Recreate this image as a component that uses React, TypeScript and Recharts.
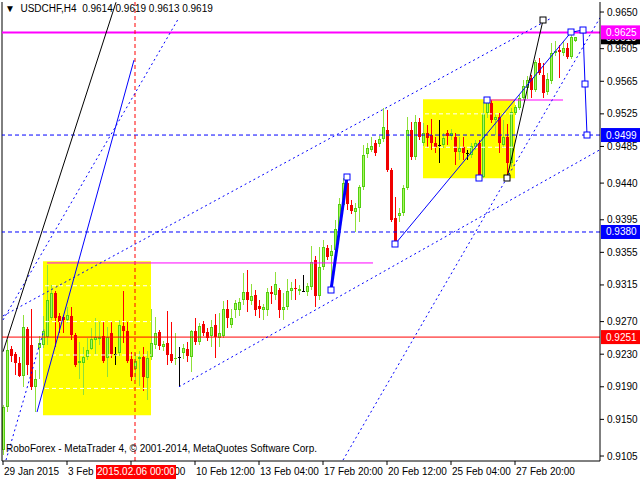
import React from 'react';
import { ComposedChart, Bar, XAxis, YAxis, ReferenceLine, ReferenceArea, ReferenceDot } from 'recharts';

// USDCHF H4 candles, bar 0 = 29 Jan 16:00
const OPENS = [
  0.9112, 0.9165, 0.9236, 0.9230, 0.9219, 0.9203, 0.9261, 0.9241, 0.9190, 0.9238,
  0.9241, 0.9251, 0.9274, 0.9305, 0.9277, 0.9276, 0.9272, 0.9277, 0.9254, 0.9219,
  0.9219, 0.9227, 0.9236, 0.9247, 0.9249, 0.9252, 0.9225, 0.9256, 0.9230, 0.9231,
  0.9265, 0.9259, 0.9224, 0.9212, 0.9224, 0.9227, 0.9201, 0.9227, 0.9241, 0.9257,
  0.9239, 0.9244, 0.9230, 0.9224, 0.9227, 0.9231, 0.9236, 0.9227, 0.9259, 0.9245,
  0.9267, 0.9257, 0.9252, 0.9266, 0.9250, 0.9252, 0.9285, 0.9266, 0.9284, 0.9284,
  0.9297, 0.9306, 0.9295, 0.9303, 0.9289, 0.9284, 0.9284, 0.9306, 0.9303, 0.9309,
  0.9284, 0.9288, 0.9308, 0.9311, 0.9308, 0.9308, 0.9306, 0.9312, 0.9346, 0.9301,
  0.9337, 0.9360, 0.9351, 0.9358, 0.9382, 0.9413, 0.9440, 0.9413, 0.9404, 0.9409,
  0.9435, 0.9476, 0.9481, 0.9489, 0.9488, 0.9494, 0.9505, 0.9456, 0.9397, 0.9400,
  0.9403, 0.9434, 0.9505, 0.9472, 0.9515, 0.9489, 0.9501, 0.9499, 0.9489, 0.9487,
  0.9487, 0.9501, 0.9498, 0.9497, 0.9478, 0.9484, 0.9477, 0.9474, 0.9484, 0.9489,
  0.9447, 0.9526, 0.9538, 0.9517, 0.9521, 0.9487, 0.9497, 0.9465, 0.9526, 0.9532,
  0.9544, 0.9557, 0.9569, 0.9554, 0.9587, 0.9573, 0.9552, 0.9565, 0.9600, 0.9603,
  0.9600, 0.9606, 0.9595, 0.9614,
];
const HIGHS = [
  0.9168, 0.9247, 0.9240, 0.9233, 0.9227, 0.9278, 0.9263, 0.9285, 0.9211, 0.9252,
  0.9277, 0.9340, 0.9315, 0.9308, 0.9281, 0.9278, 0.9288, 0.9288, 0.9256, 0.9245,
  0.9239, 0.9250, 0.9262, 0.9274, 0.9270, 0.9270, 0.9263, 0.9270, 0.9239, 0.9272,
  0.9308, 0.9270, 0.9233, 0.9232, 0.9234, 0.9239, 0.9234, 0.9285, 0.9276, 0.9260,
  0.9246, 0.9283, 0.9270, 0.9256, 0.9239, 0.9243, 0.9245, 0.9260, 0.9274, 0.9268,
  0.9271, 0.9262, 0.9272, 0.9279, 0.9281, 0.9295, 0.9297, 0.9285, 0.9297, 0.9299,
  0.9330, 0.9333, 0.9316, 0.9309, 0.9297, 0.9292, 0.9311, 0.9314, 0.9331, 0.9311,
  0.9305, 0.9322, 0.9319, 0.9322, 0.9315, 0.9327, 0.9317, 0.9363, 0.9351, 0.9362,
  0.9370, 0.9364, 0.9364, 0.9395, 0.9422, 0.9446, 0.9448, 0.9419, 0.9415, 0.9438,
  0.9487, 0.9489, 0.9497, 0.9493, 0.9498, 0.9532, 0.9530, 0.9459, 0.9423, 0.9409,
  0.9438, 0.9521, 0.9515, 0.9524, 0.9520, 0.9514, 0.9511, 0.9519, 0.9497, 0.9517,
  0.9501, 0.9505, 0.9507, 0.9501, 0.9497, 0.9497, 0.9481, 0.9489, 0.9493, 0.9493,
  0.9540, 0.9543, 0.9542, 0.9526, 0.9526, 0.9517, 0.9512, 0.9532, 0.9536, 0.9548,
  0.9567, 0.9572, 0.9573, 0.9591, 0.9594, 0.9587, 0.9575, 0.9612, 0.9614, 0.9609,
  0.9614, 0.9612, 0.9625, 0.9619,
];
const LOWS = [
  0.9106, 0.9159, 0.9220, 0.9204, 0.9202, 0.9190, 0.9204, 0.9186, 0.9159, 0.9200,
  0.9238, 0.9241, 0.9272, 0.9239, 0.9256, 0.9256, 0.9268, 0.9247, 0.9214, 0.9200,
  0.9180, 0.9223, 0.9235, 0.9230, 0.9241, 0.9219, 0.9202, 0.9225, 0.9217, 0.9228,
  0.9244, 0.9219, 0.9197, 0.9198, 0.9191, 0.9185, 0.9174, 0.9223, 0.9236, 0.9235,
  0.9234, 0.9217, 0.9219, 0.9217, 0.9190, 0.9224, 0.9220, 0.9208, 0.9241, 0.9241,
  0.9252, 0.9246, 0.9239, 0.9225, 0.9239, 0.9250, 0.9262, 0.9262, 0.9274, 0.9277,
  0.9290, 0.9282, 0.9290, 0.9277, 0.9274, 0.9272, 0.9277, 0.9292, 0.9297, 0.9274,
  0.9272, 0.9284, 0.9297, 0.9297, 0.9303, 0.9306, 0.9301, 0.9309, 0.9288, 0.9297,
  0.9333, 0.9346, 0.9309, 0.9355, 0.9380, 0.9411, 0.9407, 0.9402, 0.9380, 0.9392,
  0.9432, 0.9471, 0.9478, 0.9473, 0.9484, 0.9491, 0.9454, 0.9392, 0.9364, 0.9392,
  0.9400, 0.9432, 0.9468, 0.9468, 0.9493, 0.9485, 0.9484, 0.9481, 0.9477, 0.9465,
  0.9483, 0.9487, 0.9493, 0.9462, 0.9468, 0.9468, 0.9468, 0.9471, 0.9481, 0.9446,
  0.9446, 0.9520, 0.9514, 0.9499, 0.9477, 0.9483, 0.9447, 0.9460, 0.9523, 0.9530,
  0.9542, 0.9543, 0.9544, 0.9552, 0.9573, 0.9544, 0.9548, 0.9562, 0.9596, 0.9569,
  0.9596, 0.9592, 0.9592, 0.9613,
];
const CLOSES = [
  0.9165, 0.9235, 0.9228, 0.9219, 0.9203, 0.9263, 0.9217, 0.9190, 0.9200, 0.9244,
  0.9258, 0.9297, 0.9305, 0.9274, 0.9270, 0.9272, 0.9278, 0.9254, 0.9217, 0.9222,
  0.9227, 0.9235, 0.9249, 0.9251, 0.9251, 0.9222, 0.9251, 0.9230, 0.9230, 0.9266,
  0.9259, 0.9222, 0.9202, 0.9222, 0.9227, 0.9202, 0.9225, 0.9244, 0.9256, 0.9240,
  0.9243, 0.9229, 0.9222, 0.9225, 0.9227, 0.9237, 0.9228, 0.9259, 0.9245, 0.9265,
  0.9256, 0.9250, 0.9263, 0.9251, 0.9256, 0.9285, 0.9274, 0.9274, 0.9293, 0.9294,
  0.9306, 0.9297, 0.9301, 0.9284, 0.9285, 0.9288, 0.9306, 0.9304, 0.9316, 0.9284,
  0.9288, 0.9308, 0.9311, 0.9310, 0.9310, 0.9308, 0.9314, 0.9343, 0.9301, 0.9337,
  0.9362, 0.9349, 0.9357, 0.9384, 0.9414, 0.9440, 0.9414, 0.9406, 0.9409, 0.9435,
  0.9474, 0.9483, 0.9486, 0.9477, 0.9494, 0.9509, 0.9456, 0.9395, 0.9368, 0.9403,
  0.9434, 0.9505, 0.9472, 0.9515, 0.9497, 0.9501, 0.9495, 0.9489, 0.9484, 0.9487,
  0.9495, 0.9498, 0.9501, 0.9478, 0.9483, 0.9477, 0.9477, 0.9486, 0.9489, 0.9447,
  0.9526, 0.9541, 0.9517, 0.9521, 0.9489, 0.9497, 0.9465, 0.9527, 0.9533, 0.9544,
  0.9559, 0.9567, 0.9554, 0.9589, 0.9575, 0.9551, 0.9568, 0.9600, 0.9602, 0.9601,
  0.9606, 0.9595, 0.9619, 0.9619,
];

const TIME_TICKS = [0, 16, 32, 48, 64, 80, 96, 112, 128];
const TIME_LABELS = [
  '29 Jan 2015', '3 Feb 08:00', '5 Feb 20:00', '10 Feb 12:00', '13 Feb 04:00',
  '17 Feb 20:00', '20 Feb 12:00', '25 Feb 04:00', '27 Feb 20:00',
];
const PRICE_TICKS = [
  0.9105, 0.915, 0.919, 0.923, 0.927, 0.9315, 0.9355, 0.9395, 0.944, 0.9485,
  0.9525, 0.9565, 0.9605, 0.965,
];

// trend lines: [bar, price] -> [bar, price]
const BLACK_LINES = [
  [[0, 0.9233], [28.25, 0.9662]],
  [[126, 0.9446], [135, 0.964]],
];
const BLUE_SOLID = [
  [[8.5, 0.9159], [32.75, 0.9591]],
  [[98, 0.9365], [142, 0.9625]],
  [[142, 0.9625], [145, 0.9628]],
  [[145, 0.9628], [145.5, 0.9562]],
  [[145.5, 0.9562], [146, 0.9499]],
];
const BLUE_THICK = [[[82, 0.9309], [86, 0.9448]]];
const BLUE_DOTTED = [
  [[0, 0.9272], [43.75, 0.9641]],
  [[0, 0.9277], [137.25, 0.9643]],
  [[44, 0.919], [149.25, 0.9481]],
  [[85, 0.91], [149.25, 0.9643]],
  [[0.75, 0.91], [10.25, 0.926]],
];
const BLUE_MARKS = [
  [82, 0.9309], [86, 0.9448], [98, 0.9365], [121, 0.9542], [119, 0.9446],
  [142, 0.9625], [145, 0.9628], [145.5, 0.9562], [146, 0.9499],
];
const BLACK_MARKS = [[126, 0.9446], [135, 0.964]];

const BOXES = [
  { x1: 10, x2: 37, y1: 0.9155, y2: 0.9344, levels: [0.9314, 0.927, 0.9229, 0.9188] },
  { x1: 105, x2: 128, y1: 0.9446, y2: 0.9543, levels: [0.9525, 0.9484] },
];
const MAGENTA_SEGMENTS = [
  [[11, 0.9342], [92.5, 0.9342]],
  [[121, 0.9542], [140, 0.9542]],
];

const FONT = '"Liberation Sans", Arial, sans-serif';
const CROSS_BAR = 33;
const CROSS_LABEL = '2015.02.06 00:00';

const data = OPENS.map((o, i) => ({
  i,
  open: o,
  high: HIGHS[i],
  low: LOWS[i],
  close: CLOSES[i],
}));

function Candle(props: any) {
  const { x, y, width, height, payload } = props;
  const { open, high, low, close } = payload;
  const cx = Math.round(x + width / 2);
  const k = high === low ? 0 : height / (high - low);
  const yo = y + (high - open) * k;
  const yc = y + (high - close) * k;
  const top = Math.round(Math.min(yo, yc));
  const bot = Math.round(Math.max(yo, yc));
  const up = close > open;
  const doji = close === open;
  const wick = doji ? '#000' : up ? '#8fe03a' : '#ff0000';
  const body = doji ? '#000' : up ? '#52d010' : '#f00000';
  return (
    <g shapeRendering="crispEdges">
      <rect x={cx} y={y} width={1} height={Math.max(1, height)} fill={wick} />
      <rect x={cx - 1} y={top} width={3} height={Math.max(1, bot - top)} fill={body} />
      {up && bot - top > 2 && <rect x={cx} y={top + 1} width={1} height={bot - top - 2} fill="#a8f560" />}
    </g>
  );
}

function TimeTick(props: any) {
  const { x, payload } = props;
  const idx = TIME_TICKS.indexOf(payload.value);
  return (
    <g>
      <line x1={x} x2={x} y1={461} y2={465} stroke="#000" />
      <text x={x + 1} y={475} fontSize={10} fontFamily={FONT} fill="#000">{TIME_LABELS[idx]}</text>
    </g>
  );
}

function PriceTick(props: any) {
  const { y, payload } = props;
  return (
    <g>
      <line x1={600} x2={604} y1={y} y2={y} stroke="#000" />
      <text x={607} y={y} dy="0.35em" fontSize={10} fontFamily={FONT} fill="#000">
        {payload.value.toFixed(4)}
      </text>
    </g>
  );
}

const tag = (text: string, bg: string) => (p: any) => {
  const { x, y, width } = p.viewBox;
  return (
    <g>
      <rect x={x + width + 1} y={y - 7} width={39} height={14} fill={bg} />
      <text x={x + width + 6} y={y} dy="0.35em" fontSize={10} fontFamily={FONT} fill="#fff">{text}</text>
    </g>
  );
};

const square = (color: string) => (p: any) => (
  <rect x={Math.round(p.cx) - 3} y={Math.round(p.cy) - 3} width={6} height={6} fill="#fff" stroke={color} strokeWidth={1} />
);

const seg = (s: number[][]) => [{ x: s[0][0], y: s[0][1] }, { x: s[1][0], y: s[1][1] }];

export default function App() {
  return (
    <div style={{ position: 'absolute', left: 0, top: 0, width: 640, height: 480, background: '#fff' }}>
      <ComposedChart
        width={640}
        height={480}
        data={data}
        margin={{ top: 2, right: 0, bottom: 0, left: 2 }}
      >
        {BOXES.map((b, n) => (
          <ReferenceArea key={'box' + n} x1={b.x1} x2={b.x2} y1={b.y1} y2={b.y2} fill="#ffff00" fillOpacity={1} stroke="none" ifOverflow="visible" />
        ))}
        {BOXES.map((b, n) =>
          b.levels.map((lv) => (
            <ReferenceLine key={'lv' + n + lv} segment={[{ x: b.x1 + 0.5, y: lv }, { x: b.x2, y: lv }]} stroke="#fff" strokeDasharray="4 3" />
          ))
        )}
        <XAxis
          type="number"
          dataKey="i"
          domain={[-0.25, 149.25]}
          allowDataOverflow
          ticks={TIME_TICKS}
          interval={0}
          height={19}
          tickLine={false}
          axisLine={{ stroke: '#000' }}
          tick={<TimeTick />}
        />
        <YAxis
          orientation="right"
          type="number"
          domain={[0.90989, 0.96623]}
          allowDataOverflow
          ticks={PRICE_TICKS}
          interval={0}
          width={40}
          tickLine={false}
          axisLine={{ stroke: '#000' }}
          tick={<PriceTick />}
        />
        <ReferenceLine x={-0.25} stroke="#000" ifOverflow="visible" />
        <ReferenceLine y={0.9251} stroke="#ff0000" ifOverflow="visible" label={{ content: tag('0.9251', '#ff0000') }} />
        <ReferenceLine y={0.9499} stroke="#0000ff" strokeDasharray="4 3" ifOverflow="visible" label={{ content: tag('0.9499', '#0000ff') }} />
        <ReferenceLine y={0.938} stroke="#0000ff" strokeDasharray="4 3" ifOverflow="visible" label={{ content: tag('0.9380', '#0000ff') }} />
        <ReferenceLine y={0.9619} stroke="none" ifOverflow="visible" label={{ content: tag('0.9619', '#000000') }} />
        <ReferenceLine y={0.9625} stroke="#ff00ff" strokeWidth={2} ifOverflow="visible" label={{ content: tag('0.9625', '#ff00ff') }} />
        <ReferenceLine x={CROSS_BAR} stroke="#ff0000" strokeDasharray="4 3" ifOverflow="visible" />
        {MAGENTA_SEGMENTS.map((s, n) => (
          <ReferenceLine key={'mg' + n} segment={seg(s)} stroke="#ff00ff" ifOverflow="hidden" />
        ))}
        {BLUE_DOTTED.map((s, n) => (
          <ReferenceLine key={'bd' + n} segment={seg(s)} stroke="#0000ff" strokeDasharray="2 3" ifOverflow="hidden" />
        ))}
        <Bar dataKey={(d: any) => [d.low, d.high]} barSize={3} shape={<Candle />} isAnimationActive={false} />
        {BLACK_LINES.map((s, n) => (
          <ReferenceLine key={'bk' + n} segment={seg(s)} stroke="#000" ifOverflow="hidden" />
        ))}
        {BLUE_SOLID.map((s, n) => (
          <ReferenceLine key={'bs' + n} segment={seg(s)} stroke="#0000ff" ifOverflow="hidden" />
        ))}
        {BLUE_THICK.map((s, n) => (
          <ReferenceLine key={'bt' + n} segment={seg(s)} stroke="#0000ff" strokeWidth={3} ifOverflow="hidden" />
        ))}
        {BLUE_MARKS.map((m, n) => (
          <ReferenceDot key={'bm' + n} x={m[0]} y={m[1]} ifOverflow="visible" shape={square('#0000ff')} />
        ))}
        {BLACK_MARKS.map((m, n) => (
          <ReferenceDot key={'km' + n} x={m[0]} y={m[1]} ifOverflow="visible" shape={square('#000')} />
        ))}
      </ComposedChart>
      <div style={{ position: 'absolute', left: 5, top: 3, fontFamily: FONT, fontSize: 10, color: '#000', whiteSpace: 'pre' }}>
        {'▼  USDCHF,H4  0.9614 0.9619 0.9613 0.9619'}
      </div>
      <div style={{ position: 'absolute', left: 6, top: 443, fontFamily: FONT, fontSize: 10, color: '#000', whiteSpace: 'pre' }}>
        RoboForex - MetaTrader 4, © 2001-2014, MetaQuotes Software Corp.
      </div>
      <div
        style={{
          position: 'absolute', left: 96, top: 465, width: 80, height: 14, background: '#ff0000',
          color: '#fff', fontFamily: FONT, fontSize: 10, lineHeight: '14px', textAlign: 'center',
        }}
      >
        {CROSS_LABEL}
      </div>
    </div>
  );
}
